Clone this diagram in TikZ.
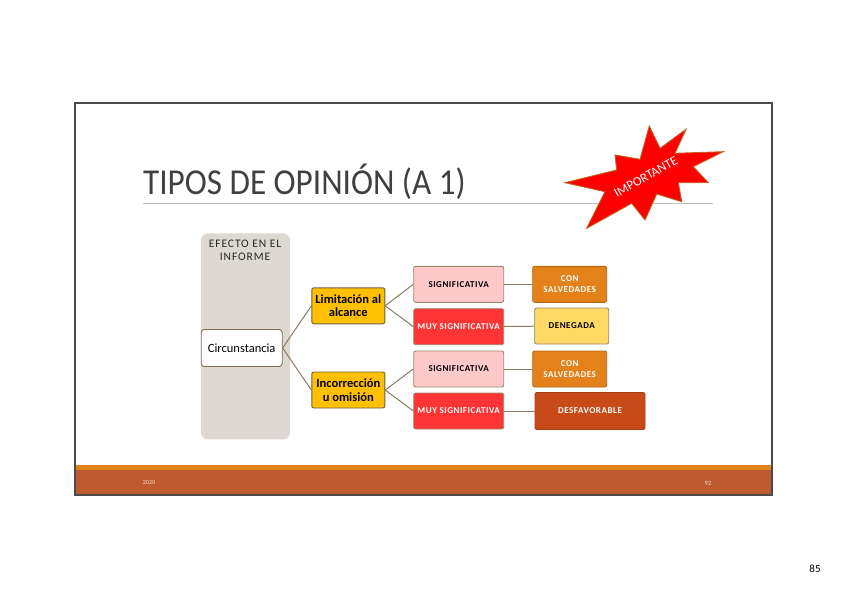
\documentclass[tikz,border=0pt]{standalone}
\usepackage{fontspec}
\setmainfont{Carlito}
\usepackage{xcolor}
\usepackage{tikz}

\definecolor{framegray}{HTML}{4A4A4A}
\definecolor{titlegray}{HTML}{404040}
\definecolor{rulegray}{HTML}{BFBFBF}
\definecolor{panelgray}{HTML}{DDD9D2}
\definecolor{linkbrown}{HTML}{8C7B60}
\definecolor{boxbrown}{HTML}{9C8668}
\definecolor{gold}{HTML}{FFC000}
\definecolor{pinklight}{HTML}{FFC9C9}
\definecolor{redbright}{HTML}{FF3535}
\definecolor{orangemid}{HTML}{E3821A}
\definecolor{yellowlight}{HTML}{FFD966}
\definecolor{rust}{HTML}{C84A18}
\definecolor{bandorange}{HTML}{E1841C}
\definecolor{banddark}{HTML}{BE5A2D}
\definecolor{foottext}{HTML}{F6DCCB}
\definecolor{starline}{HTML}{C0601A}

\begin{document}
\begin{tikzpicture}[x=1pt, y=-1pt,
  start/.style={rectangle, draw=boxbrown!80!black, fill=white, line width=0.9pt, rounded corners=3pt, minimum width=81pt, minimum height=37pt, inner sep=1pt, font=\fontsize{12.5}{13.5}\selectfont},
  cause/.style={rectangle, draw=boxbrown!70!black, fill=gold, line width=0.9pt, rounded corners=2pt, minimum width=73pt, minimum height=36pt, inner sep=1pt, align=center, font=\fontsize{12.5}{13.5}\selectfont\bfseries},
  degree/.style={rectangle, draw=boxbrown, line width=0.9pt, rounded corners=2pt, minimum width=90pt, minimum height=36pt, inner sep=1pt, align=center, font=\fontsize{9}{11}\selectfont\bfseries\addfontfeatures{LetterSpace=6}},
  verdict/.style={rectangle, draw=boxbrown, line width=0.9pt, rounded corners=2pt, minimum width=74pt, minimum height=36pt, inner sep=1pt, align=center, font=\fontsize{9}{11}\selectfont\bfseries\addfontfeatures{LetterSpace=6}},
  line/.style={draw=linkbrown, line width=1pt}]
\useasboundingbox (0,0) rectangle (848,599);

% slide
\draw[framegray, line width=1.6pt, fill=white] (75,103) rectangle (772,495);
\fill[bandorange] (75.8,465) rectangle (771.2,469.5);
\fill[banddark] (75.8,469.5) rectangle (771.2,494.2);
\node[text=foottext, font=\fontsize{6}{6}\selectfont] (year) at (149,483) {2020};
\node[text=foottext, font=\fontsize{6.5}{6.5}\selectfont] (slideno) at (708,483) {92};
\node[font=\fontsize{11}{12}\selectfont] (pageno) at (815,569) {85};

% title
\node[anchor=base west, inner sep=0pt, text=titlegray, font=\fontsize{33.2}{38}\selectfont] (title) at (143,194) {\scalebox{1}[1.1]{TIPOS DE OPINIÓN (A 1)}};
\draw[rulegray, line width=0.8pt] (143,203) -- (713,203);

% starburst
\draw[fill=red, draw=starline, line width=0.9pt] (565,182.7) -- (616.7,170) -- (615,155) -- (640,159.3)
  -- (649.3,126) -- (660,148.3) -- (686,129.3) -- (675,153.3) -- (723.3,151.7) -- (693.3,166.7)
  -- (708.3,182.7) -- (678.3,182.7) -- (681.7,201.7) -- (656.7,194) -- (645,220) -- (631.7,203.3)
  -- (586.7,228.3) -- (605,191.7) -- cycle;
\node[text=white, rotate=29.5, font=\fontsize{13}{14}\selectfont] (important) at (645.8,176.7) {IMPORTANTE};

% diagram
\fill[panelgray, rounded corners=7pt] (201,233.3) rectangle (290,439.3);
\node[align=center, text=black!85, font=\fontsize{11.5}{12.7}\selectfont\addfontfeatures{LetterSpace=8}] (effect) at (245,250) {EFECTO EN EL\\INFORME};

\node[start] (circ) at (241.7,348) {Circunstancia};
\node[cause] (limit) at (348.3,305.8) {Limitación al\\alcance};
\node[cause] (incorr) at (348.3,390) {Incorrección\\u omisión};
\node[degree, fill=pinklight] (sigA) at (458.7,284.3) {SIGNIFICATIVA};
\node[degree, fill=redbright, text=white] (muyA) at (458.7,326.7) {MUY SIGNIFICATIVA};
\node[degree, fill=pinklight] (sigB) at (458.7,369) {SIGNIFICATIVA};
\node[degree, fill=redbright, text=white] (muyB) at (458.7,411) {MUY SIGNIFICATIVA};
\node[verdict, fill=orangemid, draw=orangemid!80!black, text=white] (salvA) at (569.7,284.3) {CON\\SALVEDADES};
\node[verdict, fill=yellowlight] (deneg) at (571.7,326) {DENEGADA};
\node[verdict, fill=orangemid, draw=orangemid!80!black, text=white] (salvB) at (569.7,369) {CON\\SALVEDADES};
\node[verdict, fill=rust, draw=rust!85!black, text=white, minimum width=110pt, minimum height=37pt] (desfav) at (590,411) {DESFAVORABLE};

\begin{scope} [every path/.style=line]
\path (circ.east) -- (limit.west);
\path (circ.east) -- (incorr.west);
\path (limit.east) -- (sigA.west);
\path (limit.east) -- (muyA.west);
\path (incorr.east) -- (sigB.west);
\path (incorr.east) -- (muyB.west);
\path (sigA) -- (salvA);
\path (muyA) -- (deneg);
\path (sigB) -- (salvB);
\path (muyB) -- (desfav);
\end{scope}
\end{tikzpicture}
\end{document}
